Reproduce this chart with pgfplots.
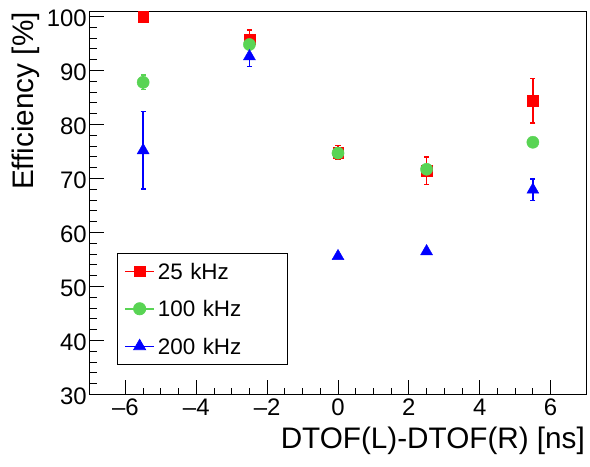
\documentclass[border=0pt]{standalone}
\usepackage{pgfplots}
\pgfplotsset{compat=1.18}
\usepackage{fontspec}
\setmainfont{Liberation Sans}
\definecolor{rootgreen}{RGB}{89,212,84}
\definecolor{rootred}{RGB}{255,0,0}
\definecolor{rootblue}{RGB}{0,0,255}

\begin{document}
\begin{tikzpicture}
\useasboundingbox (-90bp,-72.5bp) rectangle (500bp,394.5bp);
\begin{axis}[
  at={(0,0)}, anchor=south west,
  scale only axis, width=496bp, height=383.5bp,
  xmin=-7, xmax=7, ymin=30, ymax=101,
  axis line style={line width=1bp, black},
  xtick={-6,-4,...,6}, xticklabels={--6,--4,--2,0,2,4,6},
  minor x tick num=3,
  ytick={30,40,...,100},
  yticklabels={30,40,50,60,70,80,90,100},
  minor y tick num=4,
  tick align=inside,
  xtick pos=bottom, ytick pos=left,
  major tick length=14bp, minor tick length=7bp,
  every tick/.style={black, line width=0.9bp},
  tick label style={font=\fontsize{24}{28}\selectfont},
  yticklabel style={anchor=east, inner sep=0pt, xshift=-3bp, yshift=-1.5bp},
  xticklabel style={anchor=north, inner sep=0pt, yshift=-4bp},
  xlabel={DTOF(L)-DTOF(R) [ns]},
  xlabel style={at={(axis description cs:1,0)}, anchor=north east, inner sep=0pt, yshift=-32.5bp, xshift=-1bp, font=\fontsize{29.8}{34}\selectfont},
  ylabel={Efficiency [\%]},
  ylabel style={at={(axis description cs:-0.1573,0.9974)}, anchor=north east, inner sep=0pt, font=\fontsize{29.8}{34}\selectfont},
  legend cell align=left,
  legend style={at={(axis cs:-6.238,56.24)}, anchor=north west, draw=black, line width=0.8bp,
    inner xsep=7bp, inner ysep=10.2bp, row sep=21.7bp, column sep=3bp,
    nodes={inner sep=0pt, text width=123bp, text height=15.8bp, text depth=0pt, font=\fontsize{22.5}{26}\selectfont}},
  legend image code/.code={
    \draw[#1, line width=1.5bp] (0bp,0bp) -- (29bp,0bp);
    \draw[#1, only marks] plot coordinates {(14.5bp,0bp)};
  },
]
\addplot[color=rootred, mark=square*, mark size=5.3bp, only marks,
  error bars/.cd, y dir=both, y explicit,
  error bar style={line width=1.5bp, rootred},
  error mark options={rotate=90, mark size=2.6bp, line width=1.5bp, rootred}]
  table[x=x, y=y, y error=e] {
x y e
-5.5 100.0 0
-2.5 95.8 1.7
0 74.8 1.3
2.5 71.45 2.55
5.5 84.4 4.1
};
\addlegendentry{25 kHz}
\addplot[color=rootgreen, mark=*, mark size=6.1bp, only marks,
  error bars/.cd, y dir=both, y explicit,
  error bar style={line width=1.5bp, rootgreen},
  error mark options={rotate=90, mark size=2.6bp, line width=1.5bp, rootgreen}]
  table[x=x, y=y, y error=e] {
x y e
-5.5 87.8 1.35
-2.5 94.8 0
0 74.7 0
2.5 71.7 0
5.5 76.7 0
};
\addlegendentry{100 kHz}
\addplot[color=rootblue, mark=triangle*, mark size=6.9bp, only marks,
  error bars/.cd, y dir=both, y explicit,
  error bar style={line width=1.5bp, rootblue},
  error mark options={rotate=90, mark size=2.6bp, line width=1.5bp, rootblue}]
  table[x=x, y=y, y error=e] {
x y e
-5.5 75.2 7.15
-2.5 92.6 1.85
0 55.6 0
2.5 56.5 0
5.5 67.9 2.0
};
\addlegendentry{200 kHz}
\end{axis}
\end{tikzpicture}
\end{document}
